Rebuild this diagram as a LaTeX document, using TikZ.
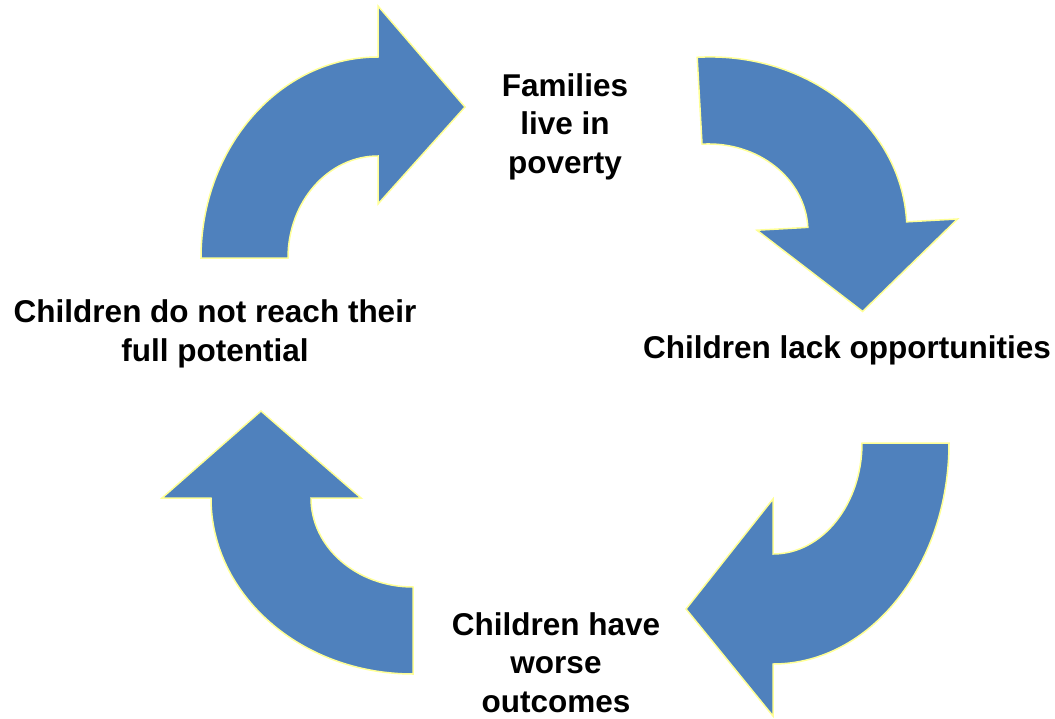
\documentclass[tikz,border=0pt]{standalone}
\usepackage{fontspec}
\setmainfont{Liberation Sans}
\definecolor{arrowblue}{HTML}{4F81BD}
\definecolor{arrowedge}{RGB}{255,255,150}
\begin{document}
\begin{tikzpicture}[x=1pt,y=1pt,
  cyclearrow/.style={fill=arrowblue,draw=arrowedge,line width=1.5pt,line join=miter},
  label/.style={align=center,inner sep=0pt,anchor=base,font=\bfseries\fontsize{31.5}{38.3}\selectfont}]
\useasboundingbox (0,0) rectangle (1055,-718);
% arrow 1: top left, pointing right
\begin{scope}[shift={(378,-258)}]
\draw[cyclearrow] (-177,0) arc[start angle=180,end angle=90,x radius=177,y radius=201]
  -- (0,252) -- (87,151) -- (0,54) -- (0,102)
  arc[start angle=90,end angle=180,x radius=90,y radius=102] -- cycle;
\end{scope}
% arrow 2: top right, pointing down
\begin{scope}[shift={(707,-233)},rotate=3.2]
\draw[cyclearrow] (0,176) arc[start angle=90,end angle=0,x radius=200,y radius=176]
  -- (251,0) -- (151,-87) -- (50,0) -- (101,0)
  arc[start angle=0,end angle=90,x radius=101,y radius=89] -- cycle;
\end{scope}
% arrow 3: bottom right, pointing left
\begin{scope}[shift={(773,-443)}]
\draw[cyclearrow] (176,0) arc[start angle=0,end angle=-90,x radius=176,y radius=221]
  -- (0,-273) -- (-87,-166) -- (0,-56) -- (0,-111)
  arc[start angle=-90,end angle=0,x radius=89,y radius=111] -- cycle;
\end{scope}
% arrow 4: bottom left, pointing up
\begin{scope}[shift={(413,-498)}]
\draw[cyclearrow] (0,-176) arc[start angle=-90,end angle=-180,x radius=202,y radius=176]
  -- (-251,0) -- (-152,87) -- (-52,0) -- (-102,0)
  arc[start angle=180,end angle=270,x radius=102,y radius=89] -- cycle;
\end{scope}
% labels (base anchor = baseline of the last line)
\node[label] (fam) at (565,-173) {Families\\live in\\poverty};
\node[label] (lack) at (847,-358) {Children lack opportunities};
\node[label] (worse) at (556,-712) {Children have\\worse\\outcomes};
\node[label] (reach) at (215,-361) {Children do not reach their\\full potential};
\end{tikzpicture}
\end{document}
